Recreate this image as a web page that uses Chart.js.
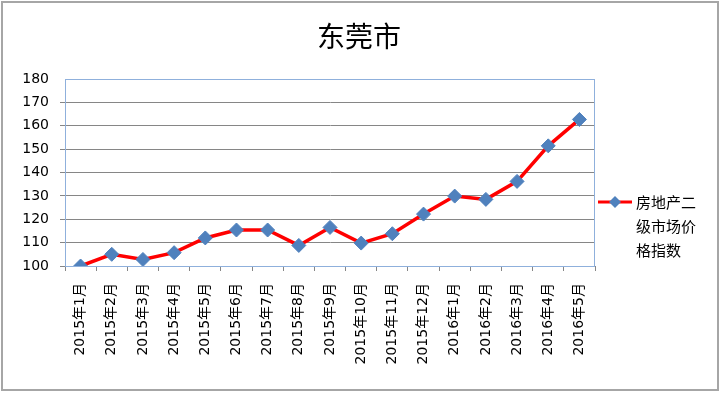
<!DOCTYPE html>
<html>
<head>
<meta charset="utf-8">
<script src="https://cdn.jsdelivr.net/npm/chart.js@4/dist/chart.umd.min.js"></script>
<style>
  html, body { margin: 0; padding: 0; background: #fff; }
  #wrap { width: 720px; height: 393px; position: relative; }
</style>
</head>
<body>
<div id="wrap"><canvas id="chart" width="720" height="393"></canvas></div>
<script>
const titleText = "东莞市";
const seriesName = "房地产二级市场价格指数";
const legendLines = ["房地产二", "级市场价", "格指数"];
const months = [
  "2015年1月", "2015年2月", "2015年3月", "2015年4月", "2015年5月", "2015年6月",
  "2015年7月", "2015年8月", "2015年9月", "2015年10月", "2015年11月", "2015年12月",
  "2016年1月", "2016年2月", "2016年3月", "2016年4月", "2016年5月"
];
const priceIndex = [100, 105, 102.8, 105.7, 112, 115.4, 115.4, 108.8, 116.5, 109.8, 113.8, 122.2, 129.9, 128.5, 136.2, 151.4, 162.7];
const yMin = 100, yMax = 180, yStep = 10;

const cjk = '"DejaVu Sans", "Noto Sans CJK SC", sans-serif';

// frame, title, plot border and legend
const decor = {
  id: "decor",
  beforeDatasetsDraw(chart) {
    const { ctx, chartArea: a } = chart;
    ctx.save();
    ctx.strokeStyle = "#8fb0dc";
    ctx.lineWidth = 1;
    ctx.strokeRect(a.left + 0.5, a.top + 0.5, a.right - a.left - 1, a.bottom - a.top);
    ctx.restore();
  },
  afterDraw(chart) {
    const { ctx } = chart;
    ctx.save();
    ctx.strokeStyle = "#a6a6a6";
    ctx.lineWidth = 2;
    ctx.strokeRect(2, 2, 716, 388);

    ctx.fillStyle = "#000";
    ctx.font = '28px "Noto Sans CJK SC", sans-serif';
    ctx.textAlign = "center";
    ctx.textBaseline = "middle";
    ctx.fillText(titleText, 359, 36);

    // legend
    const ly = 202;
    ctx.strokeStyle = "#ff0000";
    ctx.lineWidth = 3;
    ctx.beginPath();
    ctx.moveTo(598, ly);
    ctx.lineTo(632, ly);
    ctx.stroke();
    ctx.fillStyle = "#4f81bd";
    ctx.beginPath();
    ctx.moveTo(615, ly - 6);
    ctx.lineTo(621, ly);
    ctx.lineTo(615, ly + 6);
    ctx.lineTo(609, ly);
    ctx.closePath();
    ctx.fill();

    ctx.fillStyle = "#000";
    ctx.font = '15px "Noto Sans CJK SC", sans-serif';
    ctx.textAlign = "left";
    legendLines.forEach((t, i) => ctx.fillText(t, 636, ly + i * 24));
    ctx.restore();
  }
};

new Chart(document.getElementById("chart"), {
  type: "line",
  data: {
    labels: months,
    datasets: [{
      label: seriesName,
      data: priceIndex,
      borderColor: "#ff0000",
      borderWidth: 3.5,
      pointStyle: "rectRot",
      pointRadius: 7,
      pointBackgroundColor: "#4f81bd",
      pointBorderColor: "#4f81bd",
      pointBorderWidth: 1,
      tension: 0
    }]
  },
  options: {
    responsive: false,
    animation: false,
    layout: { padding: { top: 79, right: 125, left: 0, bottom: 0 } },
    plugins: { legend: { display: false }, title: { display: false }, tooltip: { enabled: false } },
    scales: {
      x: {
        offset: true,
        grid: { display: true, offset: true, drawOnChartArea: false, drawTicks: true, tickLength: 5, color: "#868686" },
        border: { color: "#868686" },
        ticks: { minRotation: 90, maxRotation: 90, autoSkip: false, padding: 12, color: "#000", font: { family: cjk, size: 14 } },
        afterFit: s => { s.height = 127; }
      },
      y: {
        min: yMin,
        max: yMax,
        ticks: { stepSize: yStep, padding: 11, color: "#000", font: { family: '"DejaVu Sans", sans-serif', size: 14 } },
        grid: { color: "#868686", tickLength: 5, lineWidth: ctx => ctx.tick && ctx.tick.value === yMax ? 0 : 1 },
        border: { color: "#868686" },
        afterFit: s => { s.width = 65; }
      }
    }
  },
  plugins: [decor]
});
</script>
</body>
</html>
